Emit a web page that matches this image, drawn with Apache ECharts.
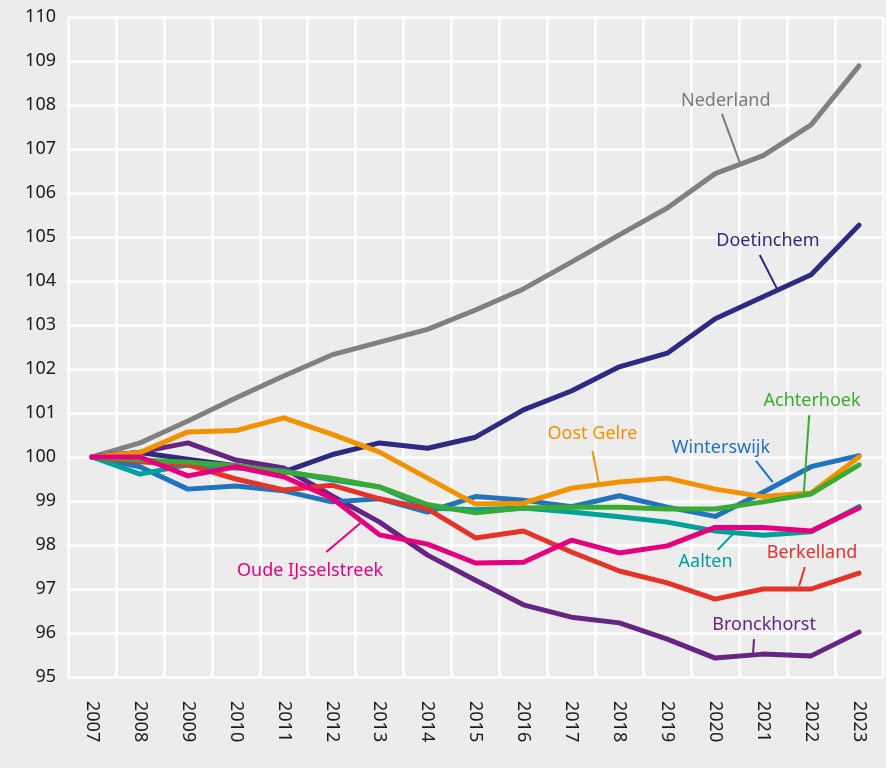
<!DOCTYPE html>
<html>
<head>
<meta charset="utf-8">
<title>Bevolkingsontwikkeling Achterhoek</title>
<script src="https://cdn.jsdelivr.net/npm/echarts@6/dist/echarts.min.js"></script>
<style>
  html, body { margin: 0; padding: 0; background: #ececec; }
  #chart { width: 886px; height: 768px; }
</style>
</head>
<body>
<div id="chart"></div>
<script>
// jaren en indexcijfers (2007 = 100)
var years = ['2007','2008','2009','2010','2011','2012','2013','2014','2015','2016','2017','2018','2019','2020','2021','2022','2023'];

var nederland   = [100, 100.32, 100.82, 101.34, 101.84, 102.32, 102.61, 102.90, 103.34, 103.82, 104.43, 105.05, 105.66, 106.44, 106.85, 107.55, 108.89];
var doetinchem  = [100, 100.10, 99.95, 99.80, 99.66, 100.05, 100.32, 100.20, 100.45, 101.07, 101.50, 102.05, 102.36, 103.14, 103.64, 104.14, 105.27];
var bronckhorst = [100, 100.11, 100.32, 99.93, 99.75, 99.12, 98.52, 97.77, 97.20, 96.64, 96.36, 96.23, 95.86, 95.43, 95.52, 95.48, 96.02];
var winterswijk = [100, 99.78, 99.27, 99.34, 99.23, 98.98, 99.05, 98.75, 99.10, 99.02, 98.87, 99.12, 98.86, 98.65, 99.20, 99.78, 100.03];
var aalten      = [100, 99.61, 99.82, 99.75, 99.68, 99.48, 99.32, 98.84, 98.80, 98.84, 98.75, 98.64, 98.52, 98.32, 98.22, 98.30, 98.87];
var berkelland  = [100, 99.89, 99.82, 99.50, 99.25, 99.36, 99.05, 98.82, 98.16, 98.32, 97.84, 97.41, 97.14, 96.77, 97.00, 97.00, 97.36];
var oostGelre   = [100, 100.10, 100.57, 100.60, 100.89, 100.52, 100.11, 99.52, 98.93, 98.95, 99.29, 99.43, 99.52, 99.27, 99.10, 99.18, 100.00];
var achterhoek  = [100, 99.93, 99.88, 99.80, 99.66, 99.52, 99.32, 98.92, 98.73, 98.84, 98.86, 98.86, 98.82, 98.82, 98.98, 99.16, 99.82];
var oudeIJssel  = [100, 100.00, 99.57, 99.78, 99.55, 99.07, 98.23, 98.02, 97.59, 97.61, 98.11, 97.82, 97.98, 98.40, 98.40, 98.32, 98.84];

var yTicks = [95, 110, 1]; // min, max, stap

// labels bij de lijnen: [tekst, kleur, tekstpositie, begin lijntje, eind lijntje] in (jaarindex, waarde)
var notes = [
    ['Nederland',         '#7a7a7a', [13.22, 108.09], [13.14, 107.80], [13.51, 106.70]],
    ['Doetinchem',        '#2e2a82', [14.10, 104.91], [13.93, 104.59], [14.29, 103.82]],
    ['Oost Gelre',        '#f39200', [10.44, 100.52], [10.44, 100.14], [10.57, 99.41]],
    ['Winterswijk',       '#1f73bf', [13.12, 100.20], [13.85, 99.91],  [14.20, 99.43]],
    ['Achterhoek',        '#3aaa35', [15.02, 101.27], [14.96, 100.95], [14.85, 99.20]],
    ['Aalten',            '#00a19a', [12.80, 97.61],  [13.05, 97.89],  [13.37, 98.25]],
    ['Berkelland',        '#e63329', [15.02, 97.82],  [14.87, 97.50],  [14.75, 97.07]],
    ['Bronckhorst',       '#662483', [14.02, 96.18],  [13.81, 95.86],  [13.79, 95.55]],
    ['Oude IJsselstreek', '#e6007e', [4.55, 97.41],   [4.89, 97.84],   [5.60, 98.50]]
];

var myChart = echarts.init(document.getElementById('chart'));

function lijn(name, data, color) {
    return {
        name: name,
        type: 'line',
        data: data,
        symbol: 'none',
        lineStyle: { width: 5, color: color, cap: 'round', join: 'round' },
        itemStyle: { color: color },
        animation: false
    };
}

var option = {
    backgroundColor: '#ececec',
    textStyle: { fontFamily: 'Noto Sans' },
    grid: { left: 68, right: 3, top: 17, bottom: 91 },
    xAxis: [{
        type: 'category',
        data: years,
        boundaryGap: true,
        axisLine: { show: false },
        axisTick: { show: false },
        axisLabel: { rotate: -90, margin: 24, fontSize: 18, color: '#1a1a1a', interval: 0 },
        splitLine: { show: true, interval: 0, lineStyle: { color: '#ffffff', width: 2.5 } }
    }, {
        // verborgen as om de labels te plaatsen
        type: 'value',
        min: -0.5,
        max: 16.5,
        show: false
    }],
    yAxis: {
        type: 'value',
        min: yTicks[0],
        max: yTicks[1],
        interval: yTicks[2],
        axisLine: { show: false },
        axisTick: { show: false },
        axisLabel: { margin: 12, fontSize: 18, color: '#1a1a1a' },
        splitLine: { lineStyle: { color: '#ffffff', width: 2.5 } }
    },
    series: [
        lijn('Nederland', nederland, '#808080'),
        lijn('Doetinchem', doetinchem, '#2e2a82'),
        lijn('Bronckhorst', bronckhorst, '#662483'),
        lijn('Winterswijk', winterswijk, '#1f73bf'),
        lijn('Aalten', aalten, '#00a19a'),
        lijn('Berkelland', berkelland, '#e63329'),
        lijn('Oost Gelre', oostGelre, '#f39200'),
        lijn('Achterhoek', achterhoek, '#3aaa35'),
        lijn('Oude IJsselstreek', oudeIJssel, '#e6007e')
    ]
};

myChart.setOption(option);

// labels en verbindingslijntjes
var graphics = [];
notes.forEach(function (n) {
    var conv = function (p) { return myChart.convertToPixel({ xAxisIndex: 1, yAxisIndex: 0 }, p); };
    var t = conv(n[2]), a = conv(n[3]), b = conv(n[4]);
    graphics.push({
        type: 'line',
        shape: { x1: a[0], y1: a[1], x2: b[0], y2: b[1] },
        style: { stroke: n[1], lineWidth: 2 },
        z: 100
    });
    graphics.push({
        type: 'text',
        x: t[0],
        y: t[1],
        style: {
            text: n[0],
            fill: n[1],
            font: '18px "Noto Sans"',
            align: 'center',
            verticalAlign: 'middle'
        },
        z: 100
    });
});
myChart.setOption({ graphic: graphics });
</script>
</body>
</html>
